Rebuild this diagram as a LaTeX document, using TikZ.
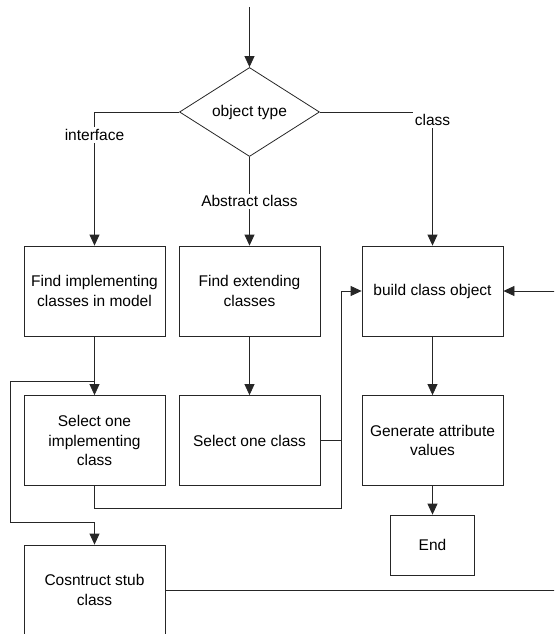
\documentclass[tikz,border=0pt]{standalone}
\usepackage{fontspec}
\setmainfont{Liberation Sans}
\usepackage{tikz}
\usetikzlibrary{shapes.geometric, arrows.meta}
\tikzstyle{decision} = [diamond, aspect=1.57, minimum width=140pt, minimum height=89pt, inner sep=0pt, text centered, draw=black!85]
\tikzstyle{process} = [rectangle, minimum width=141pt, minimum height=90pt, align=center, draw=black!85]
\tikzstyle{endbox} = [rectangle, minimum width=84pt, minimum height=60pt, align=center, draw=black!85]
\tikzstyle{line} = [draw=black!85, line width=0.8pt]
\tikzstyle{arrow} = [line, -{Triangle[length=11pt,width=10pt]}]
\tikzstyle{branch} = [fill=white, inner sep=2pt]

\begin{document}
\begin{tikzpicture}[x=1pt, y=-1pt, node distance=149.5pt, line width=0.8pt, font=\fontsize{15.5}{19.5}\selectfont]
                \clip (0,0) rectangle (554,634);
                % Nodes
                \node (type) [decision] at (249.5,112) {object type};
                \node (findimpl) [process] at (94.5,291) {Find implementing\\classes in model};
                \node (findext) [process] at (249.5,291) {Find extending\\classes};
                \node (build) [process] at (432.5,291) {build class object};
                \node (selimpl) [process, below of=findimpl] {Select one\\implementing\\class};
                \node (selcls) [process, below of=findext] {Select one class};
                \node (genattr) [process, below of=build] {Generate attribute\\values};
                \node (stub) [process, below of=selimpl] {Cosntruct stub\\class};
                \node (done) [endbox] at (432.5,545) {End};

                % Helper points
                \coordinate (start) at (249.5,7);
                \coordinate (split) at (94.5,381);
                \coordinate (lft) at (10,522);
                \coordinate (jn) at (341,440.5);
                \coordinate (rt) at (580,291);

                % Arrows
                \draw [arrow] (start) -- (type.north);
                \draw [arrow] (type.west) -| node [branch, pos=0.586] {interface} (findimpl.north);
                \draw [arrow] (type.south) -- node [branch, pos=0.5] {Abstract class} (findext.north);
                \draw [arrow] (type.east) -| node [branch, pos=0.53] {class} (build.north);
                \draw [arrow] (findimpl) -- (selimpl);
                \draw [arrow] (findext) -- (selcls);
                \draw [arrow] (build) -- (genattr);
                \draw [arrow] (genattr) -- (done);
                \draw [arrow] (split) -| (lft) -| (stub.north);
                \draw [arrow] (selcls.east) -- (jn) |- (build.west);
                \draw [line] (selimpl.south) -- ++(0,22) -| (jn);
                \draw [arrow] (stub.east) -| (rt) -- (build.east);
            \end{tikzpicture}
\end{document}
